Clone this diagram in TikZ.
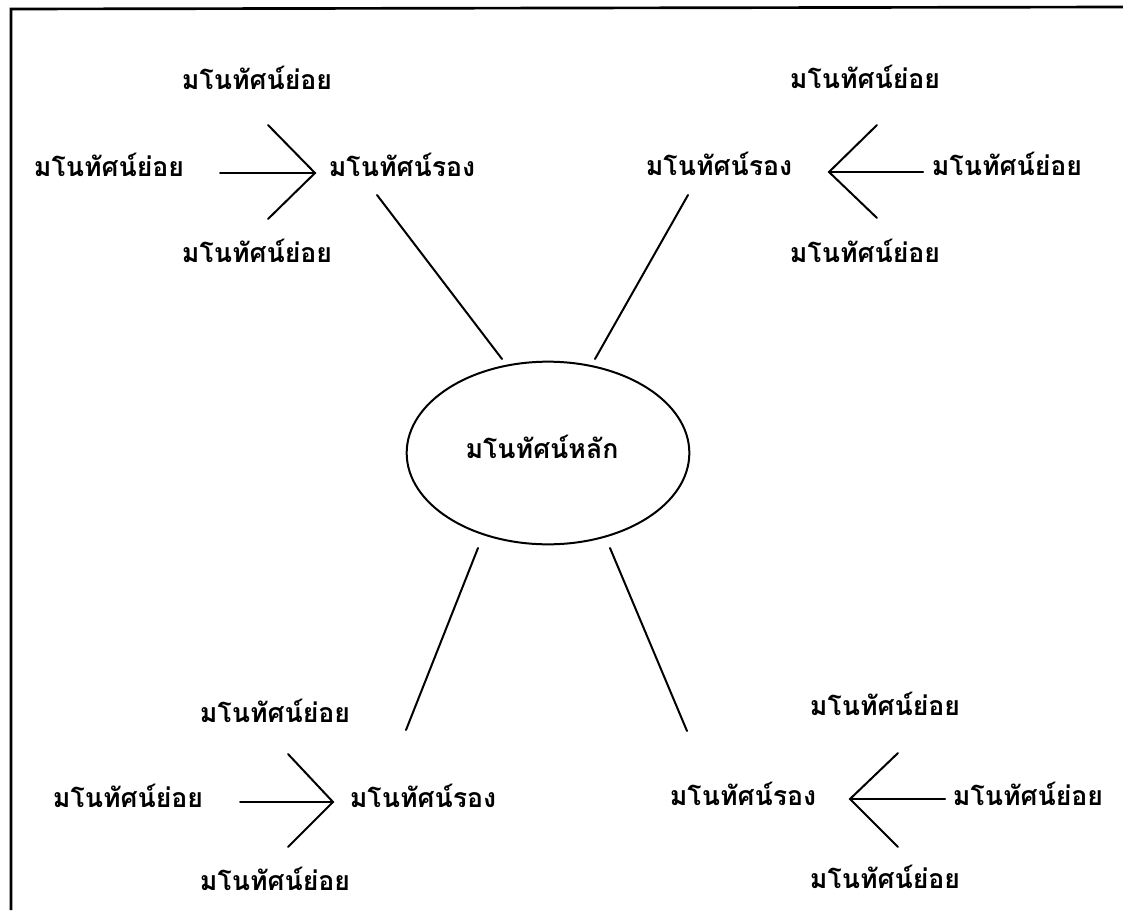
\documentclass[tikz,border=0pt]{standalone}
\usepackage{fontspec}
\newfontfamily\thaifont[Script=Thai]{Loma}
\usetikzlibrary{shapes.geometric}
\begin{document}
\begin{tikzpicture}[x=0.75pt,y=-0.75pt,
  lbl/.style={font=\thaifont\bfseries\fontsize{20}{23}\selectfont, anchor=base, inner sep=0pt},
  ln/.style={line width=1.5pt, line cap=round},
  mainell/.style={draw, ellipse, line width=1.5pt, minimum width=212pt, minimum height=137pt, inner sep=0pt}]
\useasboundingbox (0,0) rectangle (1123,910);
% frame
\coordinate (fA) at (11,910);
\coordinate (fB) at (11,9);
\coordinate (fC) at (1123,7);
\draw[line width=2pt] (fA) -- (fB) -- (fC);

% main concept
\node[mainell] (main) at (548,453) {};
\node[lbl] (mainT) at (542,458) {มโนทัศน์หลัก};

% ---------- top-left group
\node[lbl] (tlTop) at (257,89) {มโนทัศน์ย่อย};
\node[lbl] (tlLeft) at (109,176) {มโนทัศน์ย่อย};
\node[lbl] (tlBot) at (257,262) {มโนทัศน์ย่อย};
\node[lbl] (tlSec) at (402,176) {มโนทัศน์รอง};
\coordinate (tlS) at (220,173);
\coordinate (tlT) at (315,173);
\coordinate (tlU) at (268,125);
\coordinate (tlL) at (268,219);
\draw[ln] (tlS) -- (tlT);
\draw[ln] (tlU) -- (tlT) -- (tlL);
\coordinate (tlA) at (377,195);
\coordinate (tlB) at (502,359);
\draw[ln] (tlA) -- (tlB);

% ---------- top-right group
\node[lbl] (trTop) at (865,88) {มโนทัศน์ย่อย};
\node[lbl] (trRight) at (1007,175) {มโนทัศน์ย่อย};
\node[lbl] (trBot) at (865,262) {มโนทัศน์ย่อย};
\node[lbl] (trSec) at (719,175) {มโนทัศน์รอง};
\coordinate (trS) at (923,172);
\coordinate (trT) at (829,172);
\coordinate (trU) at (877,125);
\coordinate (trL) at (877,218);
\draw[ln] (trS) -- (trT);
\draw[ln] (trU) -- (trT) -- (trL);
\coordinate (trA) at (688,195);
\coordinate (trB) at (595,359);
\draw[ln] (trA) -- (trB);

% ---------- bottom-left group
\node[lbl] (blTop) at (275,722) {มโนทัศน์ย่อย};
\node[lbl] (blLeft) at (128,807) {มโนทัศน์ย่อย};
\node[lbl] (blBot) at (275,890) {มโนทัศน์ย่อย};
\node[lbl] (blSec) at (423,807) {มโนทัศน์รอง};
\coordinate (blS) at (240,802);
\coordinate (blT) at (333,802);
\coordinate (blU) at (288,754);
\coordinate (blL) at (288,847);
\draw[ln] (blS) -- (blT);
\draw[ln] (blU) -- (blT) -- (blL);
\coordinate (blA) at (478,548);
\coordinate (blB) at (406,730);
\draw[ln] (blA) -- (blB);

% ---------- bottom-right group
\node[lbl] (brTop) at (885,715) {มโนทัศน์ย่อย};
\node[lbl] (brRight) at (1028,805) {มโนทัศน์ย่อย};
\node[lbl] (brBot) at (885,888) {มโนทัศน์ย่อย};
\node[lbl] (brSec) at (743,805) {มโนทัศน์รอง};
\coordinate (brS) at (945,799);
\coordinate (brT) at (850,799);
\coordinate (brU) at (898,753);
\coordinate (brL) at (898,847);
\draw[ln] (brS) -- (brT);
\draw[ln] (brU) -- (brT) -- (brL);
\coordinate (brA) at (610,548);
\coordinate (brB) at (687,731);
\draw[ln] (brA) -- (brB);
\end{tikzpicture}
\end{document}
